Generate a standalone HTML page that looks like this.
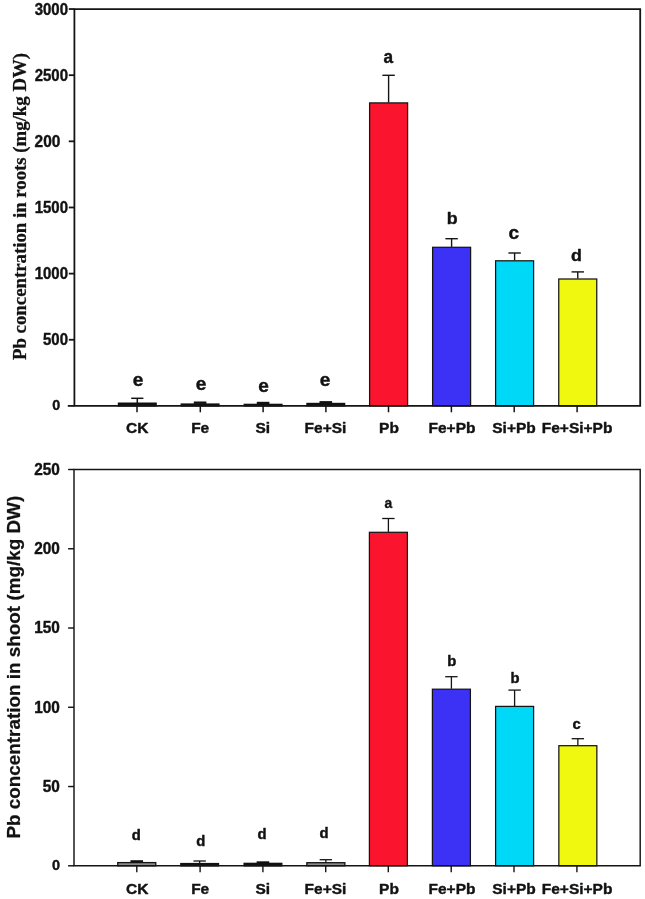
<!DOCTYPE html>
<html lang="en"><head><meta charset="utf-8"><title>Pb in roots and shoot</title>
<style>
html,body{margin:0;padding:0;background:#fff;}
svg{display:block;filter:blur(0.35px);}
text{fill:#121212;stroke:#121212;stroke-width:0.4px;stroke-linejoin:round;}
</style></head>
<body>
<svg width="645" height="899" viewBox="0 0 645 899">
<rect x="0" y="0" width="645" height="899" fill="#ffffff"/>
<rect x="117.80" y="402.50" width="39.00" height="4.10" fill="#111"/>
<line x1="137.30" y1="398.30" x2="137.30" y2="403.00" stroke="#141414" stroke-width="1.5"/>
<line x1="131.20" y1="398.30" x2="143.40" y2="398.30" stroke="#141414" stroke-width="1.5"/>
<rect x="180.60" y="403.40" width="39.00" height="3.20" fill="#111"/>
<rect x="193.80" y="401.50" width="12.6" height="2.40" fill="#111"/>
<rect x="243.60" y="403.70" width="39.00" height="2.90" fill="#111"/>
<rect x="256.80" y="401.80" width="12.6" height="2.40" fill="#111"/>
<rect x="306.30" y="402.80" width="39.00" height="3.80" fill="#111"/>
<rect x="319.50" y="401.10" width="12.6" height="2.20" fill="#111"/>
<line x1="388.60" y1="75.30" x2="388.60" y2="102.50" stroke="#141414" stroke-width="1.4"/>
<line x1="382.40" y1="75.30" x2="394.80" y2="75.30" stroke="#141414" stroke-width="1.4"/>
<rect x="369.60" y="102.90" width="38.00" height="303.00" fill="#fa142d" stroke="#141414" stroke-width="1.25"/>
<line x1="451.60" y1="238.70" x2="451.60" y2="246.90" stroke="#141414" stroke-width="1.4"/>
<line x1="445.40" y1="238.70" x2="457.80" y2="238.70" stroke="#141414" stroke-width="1.4"/>
<rect x="432.60" y="247.30" width="38.00" height="158.60" fill="#3c32f5" stroke="#141414" stroke-width="1.25"/>
<line x1="514.60" y1="253.00" x2="514.60" y2="260.40" stroke="#141414" stroke-width="1.4"/>
<line x1="508.40" y1="253.00" x2="520.80" y2="253.00" stroke="#141414" stroke-width="1.4"/>
<rect x="495.60" y="260.80" width="38.00" height="145.10" fill="#00d8f8" stroke="#141414" stroke-width="1.25"/>
<line x1="577.75" y1="271.90" x2="577.75" y2="278.60" stroke="#141414" stroke-width="1.4"/>
<line x1="571.55" y1="271.90" x2="583.95" y2="271.90" stroke="#141414" stroke-width="1.4"/>
<rect x="558.75" y="279.00" width="38.00" height="126.90" fill="#f0f810" stroke="#141414" stroke-width="1.25"/>
<path d="M74.4 405.9 V9.05 H640.2 V405.9 Z" fill="none" stroke="#141414" stroke-width="1.8"/>
<line x1="67.80" y1="405.90" x2="74.40" y2="405.90" stroke="#141414" stroke-width="1.8"/>
<line x1="68.80" y1="9.05" x2="74.40" y2="9.05" stroke="#141414" stroke-width="1.8"/>
<line x1="68.80" y1="75.19" x2="74.40" y2="75.19" stroke="#141414" stroke-width="1.8"/>
<line x1="68.80" y1="141.33" x2="74.40" y2="141.33" stroke="#141414" stroke-width="1.8"/>
<line x1="68.80" y1="207.47" x2="74.40" y2="207.47" stroke="#141414" stroke-width="1.8"/>
<line x1="68.80" y1="273.62" x2="74.40" y2="273.62" stroke="#141414" stroke-width="1.8"/>
<line x1="68.80" y1="339.76" x2="74.40" y2="339.76" stroke="#141414" stroke-width="1.8"/>
<line x1="137.00" y1="405.90" x2="137.00" y2="412.30" stroke="#141414" stroke-width="1.5"/>
<line x1="200.30" y1="405.90" x2="200.30" y2="412.30" stroke="#141414" stroke-width="1.5"/>
<line x1="263.10" y1="405.90" x2="263.10" y2="412.30" stroke="#141414" stroke-width="1.5"/>
<line x1="325.90" y1="405.90" x2="325.90" y2="412.30" stroke="#141414" stroke-width="1.5"/>
<line x1="388.50" y1="405.90" x2="388.50" y2="412.30" stroke="#141414" stroke-width="1.5"/>
<line x1="451.40" y1="405.90" x2="451.40" y2="412.30" stroke="#141414" stroke-width="1.5"/>
<line x1="514.20" y1="405.90" x2="514.20" y2="412.30" stroke="#141414" stroke-width="1.5"/>
<line x1="577.10" y1="405.90" x2="577.10" y2="412.30" stroke="#141414" stroke-width="1.5"/>
<text transform="translate(68.00,14.65) scale(0.955,1)" font-size="15.7" text-anchor="end" font-family='"Liberation Sans", Arial, Helvetica, sans-serif' font-weight="bold" >3000</text>
<text transform="translate(68.00,80.79) scale(0.955,1)" font-size="15.7" text-anchor="end" font-family='"Liberation Sans", Arial, Helvetica, sans-serif' font-weight="bold" >2500</text>
<text transform="translate(34.60,146.93) scale(0.985,1)" font-size="15.7" text-anchor="start" font-family='"Liberation Sans", Arial, Helvetica, sans-serif' font-weight="bold" >200</text>
<text transform="translate(68.00,213.07) scale(0.955,1)" font-size="15.7" text-anchor="end" font-family='"Liberation Sans", Arial, Helvetica, sans-serif' font-weight="bold" >1500</text>
<text transform="translate(68.00,279.22) scale(0.955,1)" font-size="15.7" text-anchor="end" font-family='"Liberation Sans", Arial, Helvetica, sans-serif' font-weight="bold" >1000</text>
<text transform="translate(68.00,345.36) scale(0.955,1)" font-size="15.7" text-anchor="end" font-family='"Liberation Sans", Arial, Helvetica, sans-serif' font-weight="bold" >500</text>
<text transform="translate(56.20,410.20) scale(0.94,1)" font-size="15.3" text-anchor="middle" font-family='"Liberation Sans", Arial, Helvetica, sans-serif' font-weight="bold" >0</text>
<text x="137.20" y="433.10" font-size="15.5" text-anchor="middle" font-family='"Liberation Sans", Arial, Helvetica, sans-serif' font-weight="bold" >CK</text>
<text x="200.20" y="433.10" font-size="15.5" text-anchor="middle" font-family='"Liberation Sans", Arial, Helvetica, sans-serif' font-weight="bold" >Fe</text>
<text x="262.80" y="433.10" font-size="15.5" text-anchor="middle" font-family='"Liberation Sans", Arial, Helvetica, sans-serif' font-weight="bold" >Si</text>
<text x="325.50" y="433.10" font-size="15.5" text-anchor="middle" font-family='"Liberation Sans", Arial, Helvetica, sans-serif' font-weight="bold" >Fe+Si</text>
<text x="389.00" y="433.10" font-size="15.5" text-anchor="middle" font-family='"Liberation Sans", Arial, Helvetica, sans-serif' font-weight="bold" >Pb</text>
<text x="452.00" y="433.10" font-size="15.5" text-anchor="middle" font-family='"Liberation Sans", Arial, Helvetica, sans-serif' font-weight="bold" >Fe+Pb</text>
<text x="514.00" y="433.10" font-size="15.5" text-anchor="middle" font-family='"Liberation Sans", Arial, Helvetica, sans-serif' font-weight="bold" >Si+Pb</text>
<text x="577.10" y="433.10" font-size="15.5" text-anchor="middle" font-family='"Liberation Sans", Arial, Helvetica, sans-serif' font-weight="bold" >Fe+Si+Pb</text>
<text transform="translate(138.00,385.60) scale(1.06,1)" font-size="18" text-anchor="middle" font-family='"Liberation Sans", Arial, Helvetica, sans-serif' font-weight="bold" >e</text>
<text transform="translate(201.00,390.10) scale(1.06,1)" font-size="18" text-anchor="middle" font-family='"Liberation Sans", Arial, Helvetica, sans-serif' font-weight="bold" >e</text>
<text transform="translate(263.50,391.50) scale(1.06,1)" font-size="18" text-anchor="middle" font-family='"Liberation Sans", Arial, Helvetica, sans-serif' font-weight="bold" >e</text>
<text transform="translate(325.00,385.70) scale(1.06,1)" font-size="18" text-anchor="middle" font-family='"Liberation Sans", Arial, Helvetica, sans-serif' font-weight="bold" >e</text>
<text transform="translate(388.40,63.00) scale(0.93,1)" font-size="18.5" text-anchor="middle" font-family='"Liberation Sans", Arial, Helvetica, sans-serif' font-weight="bold" >a</text>
<text transform="translate(452.30,223.90) scale(1.06,1)" font-size="16.8" text-anchor="middle" font-family='"Liberation Sans", Arial, Helvetica, sans-serif' font-weight="bold" >b</text>
<text transform="translate(513.70,238.60) scale(1.06,1)" font-size="18" text-anchor="middle" font-family='"Liberation Sans", Arial, Helvetica, sans-serif' font-weight="bold" >c</text>
<text transform="translate(576.50,260.80) scale(1.06,1)" font-size="16.8" text-anchor="middle" font-family='"Liberation Sans", Arial, Helvetica, sans-serif' font-weight="bold" >d</text>
<text transform="translate(26.1,360) rotate(-90)" font-size="18.2" font-family='"Liberation Serif", "Times New Roman", serif' font-weight="bold" style="stroke-width:0.25px" textLength="307" lengthAdjust="spacingAndGlyphs">Pb concentration in roots (mg/kg DW)</text>
<rect x="117.75" y="862.60" width="38.00" height="3.20" fill="#8a8a8a" stroke="#141414" stroke-width="1.3"/>
<rect x="130.45" y="860.20" width="12.6" height="2.30" fill="#111"/>
<rect x="180.15" y="862.90" width="39.00" height="3.60" fill="#111"/>
<line x1="199.65" y1="861.00" x2="199.65" y2="863.40" stroke="#141414" stroke-width="1.3"/>
<line x1="193.45" y1="861.00" x2="205.85" y2="861.00" stroke="#141414" stroke-width="1.3"/>
<rect x="243.45" y="862.70" width="39.00" height="3.80" fill="#111"/>
<rect x="256.65" y="861.30" width="12.6" height="1.90" fill="#111"/>
<rect x="306.85" y="862.70" width="38.00" height="3.10" fill="#8a8a8a" stroke="#141414" stroke-width="1.3"/>
<line x1="325.85" y1="859.70" x2="325.85" y2="862.60" stroke="#141414" stroke-width="1.3"/>
<line x1="319.65" y1="859.70" x2="332.05" y2="859.70" stroke="#141414" stroke-width="1.3"/>
<line x1="388.40" y1="518.50" x2="388.40" y2="531.90" stroke="#141414" stroke-width="1.3"/>
<line x1="382.20" y1="518.50" x2="394.60" y2="518.50" stroke="#141414" stroke-width="1.3"/>
<rect x="369.40" y="532.30" width="38.00" height="333.50" fill="#fa142d" stroke="#141414" stroke-width="1.25"/>
<line x1="451.40" y1="676.70" x2="451.40" y2="688.80" stroke="#141414" stroke-width="1.3"/>
<line x1="445.20" y1="676.70" x2="457.60" y2="676.70" stroke="#141414" stroke-width="1.3"/>
<rect x="432.40" y="689.20" width="38.00" height="176.60" fill="#3c32f5" stroke="#141414" stroke-width="1.25"/>
<line x1="514.60" y1="690.10" x2="514.60" y2="706.00" stroke="#141414" stroke-width="1.3"/>
<line x1="508.40" y1="690.10" x2="520.80" y2="690.10" stroke="#141414" stroke-width="1.3"/>
<rect x="495.60" y="706.40" width="38.00" height="159.40" fill="#00d8f8" stroke="#141414" stroke-width="1.25"/>
<line x1="577.85" y1="738.70" x2="577.85" y2="745.30" stroke="#141414" stroke-width="1.3"/>
<line x1="571.65" y1="738.70" x2="584.05" y2="738.70" stroke="#141414" stroke-width="1.3"/>
<rect x="558.85" y="745.70" width="38.00" height="120.10" fill="#f0f810" stroke="#141414" stroke-width="1.25"/>
<path d="M74.0 865.8 V469.5 H640.2 V865.8 Z" fill="none" stroke="#141414" stroke-width="1.45"/>
<line x1="68.10" y1="469.50" x2="74.00" y2="469.50" stroke="#141414" stroke-width="1.45"/>
<line x1="68.10" y1="548.76" x2="74.00" y2="548.76" stroke="#141414" stroke-width="1.45"/>
<line x1="68.10" y1="628.02" x2="74.00" y2="628.02" stroke="#141414" stroke-width="1.45"/>
<line x1="68.10" y1="707.28" x2="74.00" y2="707.28" stroke="#141414" stroke-width="1.45"/>
<line x1="68.10" y1="786.54" x2="74.00" y2="786.54" stroke="#141414" stroke-width="1.45"/>
<line x1="68.10" y1="865.80" x2="74.00" y2="865.80" stroke="#141414" stroke-width="1.45"/>
<line x1="136.80" y1="865.80" x2="136.80" y2="872.20" stroke="#141414" stroke-width="1.4"/>
<line x1="200.10" y1="865.80" x2="200.10" y2="872.20" stroke="#141414" stroke-width="1.4"/>
<line x1="262.90" y1="865.80" x2="262.90" y2="872.20" stroke="#141414" stroke-width="1.4"/>
<line x1="325.70" y1="865.80" x2="325.70" y2="872.20" stroke="#141414" stroke-width="1.4"/>
<line x1="388.30" y1="865.80" x2="388.30" y2="872.20" stroke="#141414" stroke-width="1.4"/>
<line x1="451.20" y1="865.80" x2="451.20" y2="872.20" stroke="#141414" stroke-width="1.4"/>
<line x1="514.00" y1="865.80" x2="514.00" y2="872.20" stroke="#141414" stroke-width="1.4"/>
<line x1="576.90" y1="865.80" x2="576.90" y2="872.20" stroke="#141414" stroke-width="1.4"/>
<text transform="translate(59.80,474.90) scale(0.98,1)" font-size="15.7" text-anchor="end" font-family='"Liberation Sans", Arial, Helvetica, sans-serif' font-weight="bold" >250</text>
<text transform="translate(59.80,554.16) scale(0.98,1)" font-size="15.7" text-anchor="end" font-family='"Liberation Sans", Arial, Helvetica, sans-serif' font-weight="bold" >200</text>
<text transform="translate(59.80,633.42) scale(0.98,1)" font-size="15.7" text-anchor="end" font-family='"Liberation Sans", Arial, Helvetica, sans-serif' font-weight="bold" >150</text>
<text transform="translate(59.80,712.68) scale(0.98,1)" font-size="15.7" text-anchor="end" font-family='"Liberation Sans", Arial, Helvetica, sans-serif' font-weight="bold" >100</text>
<text transform="translate(59.80,791.94) scale(0.98,1)" font-size="15.7" text-anchor="end" font-family='"Liberation Sans", Arial, Helvetica, sans-serif' font-weight="bold" >50</text>
<text x="56.00" y="870.30" font-size="14.5" text-anchor="middle" font-family='"Liberation Sans", Arial, Helvetica, sans-serif' font-weight="bold" >0</text>
<text x="137.20" y="893.90" font-size="15.5" text-anchor="middle" font-family='"Liberation Sans", Arial, Helvetica, sans-serif' font-weight="bold" >CK</text>
<text x="200.20" y="893.90" font-size="15.5" text-anchor="middle" font-family='"Liberation Sans", Arial, Helvetica, sans-serif' font-weight="bold" >Fe</text>
<text x="262.80" y="893.90" font-size="15.5" text-anchor="middle" font-family='"Liberation Sans", Arial, Helvetica, sans-serif' font-weight="bold" >Si</text>
<text x="325.50" y="893.90" font-size="15.5" text-anchor="middle" font-family='"Liberation Sans", Arial, Helvetica, sans-serif' font-weight="bold" >Fe+Si</text>
<text x="389.00" y="893.90" font-size="15.5" text-anchor="middle" font-family='"Liberation Sans", Arial, Helvetica, sans-serif' font-weight="bold" >Pb</text>
<text x="452.00" y="893.90" font-size="15.5" text-anchor="middle" font-family='"Liberation Sans", Arial, Helvetica, sans-serif' font-weight="bold" >Fe+Pb</text>
<text x="514.00" y="893.90" font-size="15.5" text-anchor="middle" font-family='"Liberation Sans", Arial, Helvetica, sans-serif' font-weight="bold" >Si+Pb</text>
<text x="577.10" y="893.90" font-size="15.5" text-anchor="middle" font-family='"Liberation Sans", Arial, Helvetica, sans-serif' font-weight="bold" >Fe+Si+Pb</text>
<text transform="translate(136.40,840.40) scale(1.06,1)" font-size="14.0" text-anchor="middle" font-family='"Liberation Sans", Arial, Helvetica, sans-serif' font-weight="bold" >d</text>
<text transform="translate(200.90,845.80) scale(1.06,1)" font-size="14.0" text-anchor="middle" font-family='"Liberation Sans", Arial, Helvetica, sans-serif' font-weight="bold" >d</text>
<text transform="translate(262.00,838.80) scale(1.06,1)" font-size="14.0" text-anchor="middle" font-family='"Liberation Sans", Arial, Helvetica, sans-serif' font-weight="bold" >d</text>
<text transform="translate(324.00,838.30) scale(1.06,1)" font-size="14.0" text-anchor="middle" font-family='"Liberation Sans", Arial, Helvetica, sans-serif' font-weight="bold" >d</text>
<text transform="translate(388.40,507.60) scale(0.92,1)" font-size="15.0" text-anchor="middle" font-family='"Liberation Sans", Arial, Helvetica, sans-serif' font-weight="bold" >a</text>
<text transform="translate(451.80,665.60) scale(1.06,1)" font-size="14.0" text-anchor="middle" font-family='"Liberation Sans", Arial, Helvetica, sans-serif' font-weight="bold" >b</text>
<text transform="translate(515.00,682.60) scale(1.06,1)" font-size="14.0" text-anchor="middle" font-family='"Liberation Sans", Arial, Helvetica, sans-serif' font-weight="bold" >b</text>
<text transform="translate(576.50,728.80) scale(1.06,1)" font-size="14.0" text-anchor="middle" font-family='"Liberation Sans", Arial, Helvetica, sans-serif' font-weight="bold" >c</text>
<text transform="translate(20.0,838.6) rotate(-90) scale(1,0.95)" font-size="18.8" font-family='"Liberation Sans", Arial, Helvetica, sans-serif' font-weight="bold" style="stroke-width:0.25px" textLength="342.8" lengthAdjust="spacingAndGlyphs">Pb concentration in shoot (mg/kg DW)</text>
</svg>
</body></html>
